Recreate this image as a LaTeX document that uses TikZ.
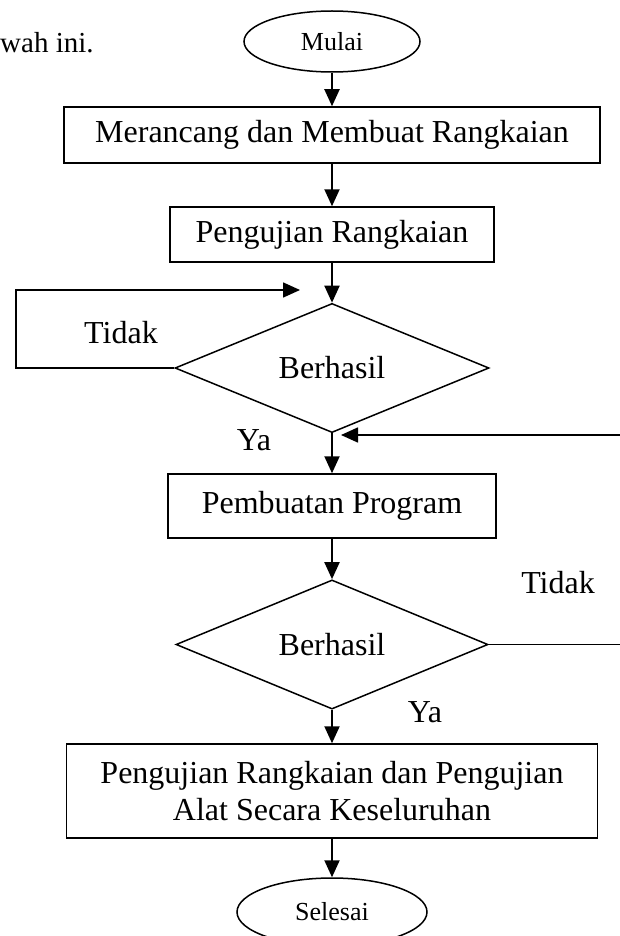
\documentclass[tikz,border=0pt]{standalone}
\usepackage{fontspec}
\setmainfont{Liberation Serif}
\usetikzlibrary{shapes.geometric,arrows.meta}
\begin{document}
\begin{tikzpicture}[%
      x=1pt, y=-1pt,
      every node/.style={font=\fontsize{32}{37}\selectfont},
      block/.style={rectangle, draw, text centered, inner sep=0pt, minimum height=56pt, line width=1.5pt},
      decision/.style={diamond, draw, inner sep=0pt, minimum width=314pt, minimum height=104pt, line width=1.5pt},
      terminal/.style={ellipse, draw, inner sep=0pt, font=\fontsize{26}{30}\selectfont, line width=1.5pt},
      line/.style={draw, -{Triangle[length=17pt, width=15pt]}, line width=2pt},
      back/.style={draw, line width=1.6pt}
      ]
    \useasboundingbox (0, 0) rectangle (620, 936);
    \clip (0, 0) rectangle (620, 936);

    \node [anchor=west, inner sep=0pt, font=\fontsize{29}{34}\selectfont] (intro) at (0, 43) {wah ini.};

    \node [terminal, minimum width=176pt, minimum height=61pt] (mulai) at (332, 41.5) {Mulai};
    \node [block, minimum width=536pt] (rancang) at (332, 135) {Merancang dan Membuat Rangkaian};
    \path [line] (mulai) -- (rancang);

    \node [block, minimum width=324pt, minimum height=55pt] (uji) at (332, 234.5) {Pengujian Rangkaian};
    \path [line] (rancang) -- (uji);

    \node [decision] (cek1) at (332, 368) {Berhasil};
    \path [line] (uji) -- (cek1);

    % kembali ke pengujian
    \coordinate (balik1) at (300, 290);
    \path [back, -{Triangle[length=17pt, width=15pt]}] (cek1.west) -- ++(-158, 0) |- (balik1);
    \node (tidak1) at (121, 333) {Tidak};
    \node (ya1) at (254, 440) {Ya};

    \node [block, minimum width=328pt, minimum height=64pt] (program) at (332, 506) {Pembuatan Program};
    \path [line] (cek1) -- (program);

    \node [decision, minimum width=312pt, minimum height=105pt] (cek2) at (332, 644.5) {Berhasil};
    \path [line] (program) -- (cek2);

    % kembali ke pembuatan program
    \coordinate (balik2) at (341, 435);
    \path [back, -{Triangle[length=17pt, width=15pt]}] (cek2.east) -- ++(150, 0) |- (balik2);
    \node (tidak2) at (558, 583) {Tidak};
    \node (ya2) at (425, 712) {Ya};

    \node [block, align=center, minimum width=531pt, minimum height=94pt] (akhir) at (332, 791) {Pengujian Rangkaian dan Pengujian\\Alat Secara Keseluruhan};
    \path [line] (cek2) -- (akhir);

    \node [terminal, minimum width=190pt, minimum height=68pt] (selesai) at (332, 912) {Selesai};
    \path [line] (akhir) -- (selesai);
  \end{tikzpicture}
\end{document}
